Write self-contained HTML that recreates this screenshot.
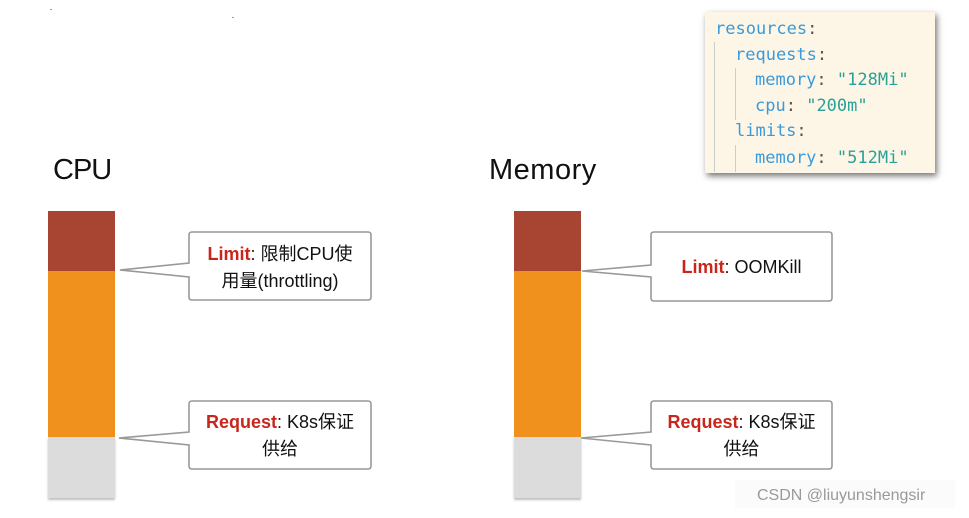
<!DOCTYPE html>
<html><head><meta charset="utf-8"><style>
body{margin:0;width:969px;height:518px;background:#fff;position:relative;overflow:hidden;font-family:"Liberation Sans","Noto Sans CJK SC",sans-serif}
.t{position:absolute;font-size:29px;color:#111}
.bar{position:absolute;width:67px}
.code{position:absolute;left:705px;top:12px;width:230px;height:161px;background:#fdf6e7;box-shadow:2px 3px 6px rgba(0,0,0,.55);font-family:"DejaVu Sans Mono","Liberation Mono",monospace;font-size:17px;}
.code div{position:absolute;white-space:pre;color:#3a9ad9}
.c{color:#555}.s{color:#2aa198}
.g{position:absolute;width:1px;background:#ccc}
.lbl{position:absolute;font-size:18px;color:#111;text-align:center;line-height:27px}
.r{color:#c9261b;font-weight:bold}
</style></head><body>
<div style="position:absolute;left:50px;top:9px;width:2px;height:1px;background:#999"></div>
<div style="position:absolute;left:232px;top:17px;width:2px;height:1px;background:#999"></div>
<div class="t" style="left:53px;top:154px;letter-spacing:-1px">CPU</div>
<div class="t" style="left:489px;top:154px;letter-spacing:0.5px">Memory</div>

<div class="bar" style="left:48px;top:211px;height:60px;background:#a84432"></div>
<div class="bar" style="left:48px;top:271px;height:166px;background:#f0911e"></div>
<div class="bar" style="left:48px;top:437px;height:61px;background:#dcdcdd;box-shadow:0 2px 2px rgba(0,0,0,.25)"></div>
<div class="bar" style="left:514px;top:211px;height:60px;background:#a84432"></div>
<div class="bar" style="left:514px;top:271px;height:166px;background:#f0911e"></div>
<div class="bar" style="left:514px;top:437px;height:61px;background:#dcdcdd;box-shadow:0 2px 2px rgba(0,0,0,.25)"></div>

<svg width="969" height="518" style="position:absolute;left:0;top:0" fill="#fff" stroke="#999" stroke-width="1.6">
<path d="M192,232 H368 Q371,232 371,235 V297 Q371,300 368,300 H192 Q189,300 189,297 V277 L120,270 L189,263 V235 Q189,232 192,232 Z"/>
<path d="M192,401 H368 Q371,401 371,404 V466 Q371,469 368,469 H192 Q189,469 189,466 V445 L119,438 L189,432 V404 Q189,401 192,401 Z"/>
<path d="M654,232 H829 Q832,232 832,235 V298 Q832,301 829,301 H654 Q651,301 651,298 V277 L582,271 L651,265 V235 Q651,232 654,232 Z"/>
<path d="M654,401 H829 Q832,401 832,404 V466 Q832,469 829,469 H654 Q651,469 651,466 V445 L581,438 L651,432 V404 Q651,401 654,401 Z"/>
</svg>
<div class="lbl" style="left:189px;top:241px;width:182px"><span class="r">Limit</span>: 限制CPU使<br>用量(throttling)</div>
<div class="lbl" style="left:189px;top:409px;width:182px"><span class="r">Request</span>: K8s保证<br>供给</div>
<div class="lbl" style="left:651px;top:254px;width:181px"><span class="r">Limit</span>: OOMKill</div>
<div class="lbl" style="left:651px;top:409px;width:181px"><span class="r">Request</span>: K8s保证<br>供给</div>

<div class="code">
<div class="g" style="left:9px;top:30px;height:130px"></div>
<div class="g" style="left:30px;top:56px;height:52px"></div>
<div class="g" style="left:30px;top:133px;height:27px"></div>
<div style="left:10px;top:7px">resources<span class="c">:</span></div>
<div style="left:30px;top:33px">requests<span class="c">:</span></div>
<div style="left:50px;top:58px">memory<span class="c">: </span><span class="s">"128Mi"</span></div>
<div style="left:50px;top:84px">cpu<span class="c">: </span><span class="s">"200m"</span></div>
<div style="left:30px;top:109px">limits<span class="c">:</span></div>
<div style="left:50px;top:136px">memory<span class="c">: </span><span class="s">"512Mi"</span></div>
</div>
<div style="position:absolute;left:735px;top:480px;width:220px;height:28px;background:rgba(250,250,250,.7)"></div>
<div style="position:absolute;left:757px;top:487px;font-size:16px;color:#999">CSDN @liuyunshengsir</div>
</body></html>
